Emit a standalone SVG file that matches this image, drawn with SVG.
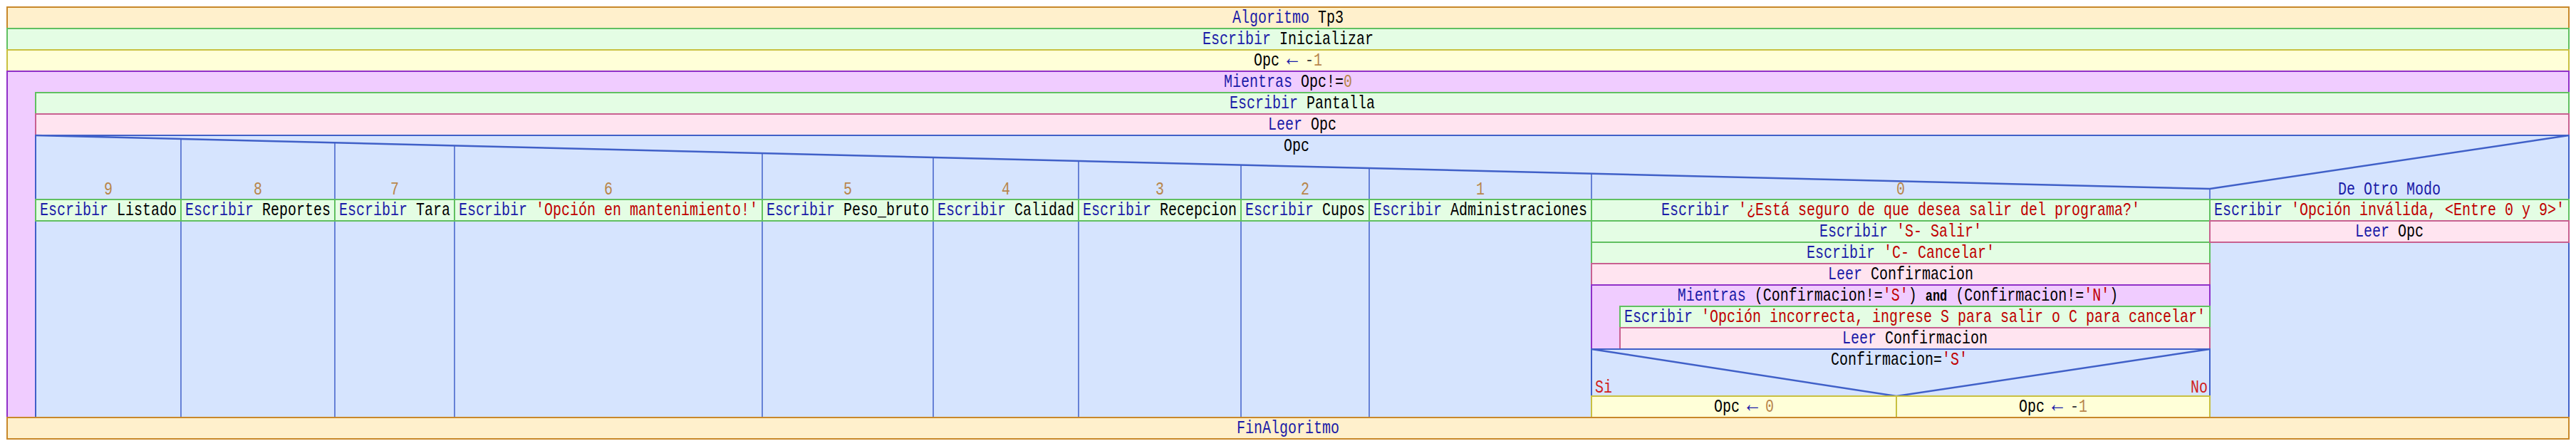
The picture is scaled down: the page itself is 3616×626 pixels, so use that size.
<svg xmlns="http://www.w3.org/2000/svg" width="3616" height="626" viewBox="0 0 3616 626">
<style>
.t{font-family:"Liberation Mono","DejaVu Sans Mono",monospace;font-size:26px;fill:#000;text-anchor:middle}
.st{text-anchor:start}
.en{text-anchor:end}
.k{fill:#1c1ca8}
.s{fill:#c00000}
.n{fill:#b8864b}
.o{fill:#404040}
.ar{fill:#1c1ca8;font-size:34px}
.and{font-weight:bold;font-size:22px}
.si{fill:#d02020}
.or{fill:#fff0cc;stroke:#c8882a;stroke-width:2}
.gr{fill:#e4fde4;stroke:#60c060;stroke-width:2}
.ye{fill:#ffffd8;stroke:#c8c040;stroke-width:2}
.pu{fill:#f0ccff;stroke:#9030c8;stroke-width:2}
.pi{fill:#ffe4f0;stroke:#c86090;stroke-width:2}
.bl{fill:#d6e4fe;stroke:#4060c8;stroke-width:2}
.ln{fill:none;stroke:#4060c8;stroke-width:1.5}
.dg{fill:none;stroke:#4060c8;stroke-width:2.5}
</style>
<rect width="3616" height="626" fill="#ffffff"/>

<g id="algoritmo">
<rect class="or" x="10" y="10" width="3596" height="30"/>
<text class="t" transform="translate(1808 32) scale(.7692 1)"><tspan class="k">Algoritmo</tspan> Tp3</text>
</g>

<g id="escribir-inicializar">
<rect class="gr" x="10" y="40" width="3596" height="30"/>
<text class="t" transform="translate(1808 62) scale(.7692 1)"><tspan class="k">Escribir</tspan> Inicializar</text>
</g>

<g id="asig-opc-inicial">
<rect class="ye" x="10" y="70" width="3596" height="30"/>
<text class="t" transform="translate(1808 92) scale(.7692 1)">Opc <tspan class="ar" dx="-2.4">←</tspan><tspan dx="-2.4"> </tspan><tspan class="o">-</tspan><tspan class="n">1</tspan></text>
</g>

<g id="mientras-principal">
<rect class="pu" x="10" y="100" width="3596" height="486"/>
<text class="t" transform="translate(1808 122) scale(.7692 1)"><tspan class="k">Mientras</tspan> Opc!=<tspan class="n">0</tspan></text>
</g>

<g id="escribir-pantalla">
<rect class="gr" x="50" y="130" width="3556" height="30"/>
<text class="t" transform="translate(1828 152) scale(.7692 1)"><tspan class="k">Escribir</tspan> Pantalla</text>
</g>

<g id="leer-opc">
<rect class="pi" x="50" y="160" width="3556" height="30"/>
<text class="t" transform="translate(1828 182) scale(.7692 1)"><tspan class="k">Leer</tspan> Opc</text>
</g>

<g id="segun-opc">
<rect class="bl" x="50" y="190" width="3556" height="396"/>
<polyline class="dg" points="50,190 3102,265 3606,190"/>
<line class="ln" x1="254" y1="195" x2="254" y2="586"/>
<line class="ln" x1="470" y1="200.3" x2="470" y2="586"/>
<line class="ln" x1="638" y1="204.4" x2="638" y2="586"/>
<line class="ln" x1="1070" y1="215.1" x2="1070" y2="586"/>
<line class="ln" x1="1310" y1="221" x2="1310" y2="586"/>
<line class="ln" x1="1514" y1="226" x2="1514" y2="586"/>
<line class="ln" x1="1742" y1="231.6" x2="1742" y2="586"/>
<line class="ln" x1="1922" y1="236" x2="1922" y2="586"/>
<line class="ln" x1="2234" y1="243.7" x2="2234" y2="586"/>
<line class="ln" x1="3102" y1="265" x2="3102" y2="586"/>
<text class="t" transform="translate(1820 212) scale(.7692 1)">Opc</text>
<text class="t n" transform="translate(152 273) scale(.7692 1)">9</text>
<text class="t n" transform="translate(362 273) scale(.7692 1)">8</text>
<text class="t n" transform="translate(554 273) scale(.7692 1)">7</text>
<text class="t n" transform="translate(854 273) scale(.7692 1)">6</text>
<text class="t n" transform="translate(1190 273) scale(.7692 1)">5</text>
<text class="t n" transform="translate(1412 273) scale(.7692 1)">4</text>
<text class="t n" transform="translate(1628 273) scale(.7692 1)">3</text>
<text class="t n" transform="translate(1832 273) scale(.7692 1)">2</text>
<text class="t n" transform="translate(2078 273) scale(.7692 1)">1</text>
<text class="t n" transform="translate(2668 273) scale(.7692 1)">0</text>
<text class="t k" transform="translate(3354 273) scale(.7692 1)">De Otro Modo</text>
</g>

<g id="caso-9">
<rect class="gr" x="50" y="280" width="204" height="30"/>
<text class="t" transform="translate(152 302) scale(.7692 1)"><tspan class="k">Escribir</tspan> Listado</text>
</g>
<g id="caso-8">
<rect class="gr" x="254" y="280" width="216" height="30"/>
<text class="t" transform="translate(362 302) scale(.7692 1)"><tspan class="k">Escribir</tspan> Reportes</text>
</g>
<g id="caso-7">
<rect class="gr" x="470" y="280" width="168" height="30"/>
<text class="t" transform="translate(554 302) scale(.7692 1)"><tspan class="k">Escribir</tspan> Tara</text>
</g>
<g id="caso-6">
<rect class="gr" x="638" y="280" width="432" height="30"/>
<text class="t" transform="translate(854 302) scale(.7692 1)"><tspan class="k">Escribir</tspan> <tspan class="s">'Opción en mantenimiento!'</tspan></text>
</g>
<g id="caso-5">
<rect class="gr" x="1070" y="280" width="240" height="30"/>
<text class="t" transform="translate(1190 302) scale(.7692 1)"><tspan class="k">Escribir</tspan> Peso_bruto</text>
</g>
<g id="caso-4">
<rect class="gr" x="1310" y="280" width="204" height="30"/>
<text class="t" transform="translate(1412 302) scale(.7692 1)"><tspan class="k">Escribir</tspan> Calidad</text>
</g>
<g id="caso-3">
<rect class="gr" x="1514" y="280" width="228" height="30"/>
<text class="t" transform="translate(1628 302) scale(.7692 1)"><tspan class="k">Escribir</tspan> Recepcion</text>
</g>
<g id="caso-2">
<rect class="gr" x="1742" y="280" width="180" height="30"/>
<text class="t" transform="translate(1832 302) scale(.7692 1)"><tspan class="k">Escribir</tspan> Cupos</text>
</g>
<g id="caso-1">
<rect class="gr" x="1922" y="280" width="312" height="30"/>
<text class="t" transform="translate(2078 302) scale(.7692 1)"><tspan class="k">Escribir</tspan> Administraciones</text>
</g>

<g id="caso-0">
<rect class="gr" x="2234" y="280" width="868" height="30"/>
<text class="t" transform="translate(2668 302) scale(.7692 1)"><tspan class="k">Escribir</tspan> <tspan class="s">'¿Está seguro de que desea salir del programa?'</tspan></text>
<rect class="gr" x="2234" y="310" width="868" height="30"/>
<text class="t" transform="translate(2668 332) scale(.7692 1)"><tspan class="k">Escribir</tspan> <tspan class="s">'S- Salir'</tspan></text>
<rect class="gr" x="2234" y="340" width="868" height="30"/>
<text class="t" transform="translate(2668 362) scale(.7692 1)"><tspan class="k">Escribir</tspan> <tspan class="s">'C- Cancelar'</tspan></text>
<rect class="pi" x="2234" y="370" width="868" height="30"/>
<text class="t" transform="translate(2668 392) scale(.7692 1)"><tspan class="k">Leer</tspan> Confirmacion</text>
</g>

<g id="mientras-confirmacion">
<rect class="pu" x="2234" y="400" width="868" height="90"/>
<text class="t" transform="translate(2664 422) scale(.7692 1)"><tspan class="k">Mientras</tspan> (Confirmacion!=<tspan class="s">'S'</tspan>) <tspan class="and">and</tspan> (Confirmacion!=<tspan class="s">'N'</tspan>)</text>
</g>
<g id="escribir-incorrecta">
<rect class="gr" x="2274" y="430" width="828" height="30"/>
<text class="t" transform="translate(2688 452) scale(.7692 1)"><tspan class="k">Escribir</tspan> <tspan class="s">'Opción incorrecta, ingrese S para salir o C para cancelar'</tspan></text>
</g>
<g id="leer-confirmacion-2">
<rect class="pi" x="2274" y="460" width="828" height="30"/>
<text class="t" transform="translate(2688 482) scale(.7692 1)"><tspan class="k">Leer</tspan> Confirmacion</text>
</g>

<g id="si-confirmacion">
<rect class="bl" x="2234" y="490" width="868" height="66"/>
<polyline class="dg" points="2234,490 2662,556 3102,490"/>
<text class="t" transform="translate(2666 512) scale(.7692 1)">Confirmacion=<tspan class="s">'S'</tspan></text>
<text class="t st si" transform="translate(2239 551) scale(.7692 1)">Si</text>
<text class="t en si" transform="translate(3099 551) scale(.7692 1)">No</text>
</g>
<g id="asig-opc-0">
<rect class="ye" x="2234" y="556" width="428" height="30"/>
<text class="t" transform="translate(2448 578) scale(.7692 1)">Opc <tspan class="ar" dx="-2.4">←</tspan><tspan dx="-2.4"> </tspan><tspan class="n">0</tspan></text>
</g>
<g id="asig-opc-menos1">
<rect class="ye" x="2662" y="556" width="440" height="30"/>
<text class="t" transform="translate(2882 578) scale(.7692 1)">Opc <tspan class="ar" dx="-2.4">←</tspan><tspan dx="-2.4"> </tspan><tspan class="o">-</tspan><tspan class="n">1</tspan></text>
</g>

<g id="caso-otro">
<rect class="gr" x="3102" y="280" width="504" height="30"/>
<text class="t" transform="translate(3354 302) scale(.7692 1)"><tspan class="k">Escribir</tspan> <tspan class="s">'Opción inválida, &lt;Entre 0 y 9&gt;'</tspan></text>
<rect class="pi" x="3102" y="310" width="504" height="30"/>
<text class="t" transform="translate(3354 332) scale(.7692 1)"><tspan class="k">Leer</tspan> Opc</text>
</g>

<g id="fin-algoritmo">
<rect class="or" x="10" y="586" width="3596" height="30"/>
<text class="t k" transform="translate(1808 608) scale(.7692 1)">FinAlgoritmo</text>
</g>

<g id="connectors"/>
</svg>
